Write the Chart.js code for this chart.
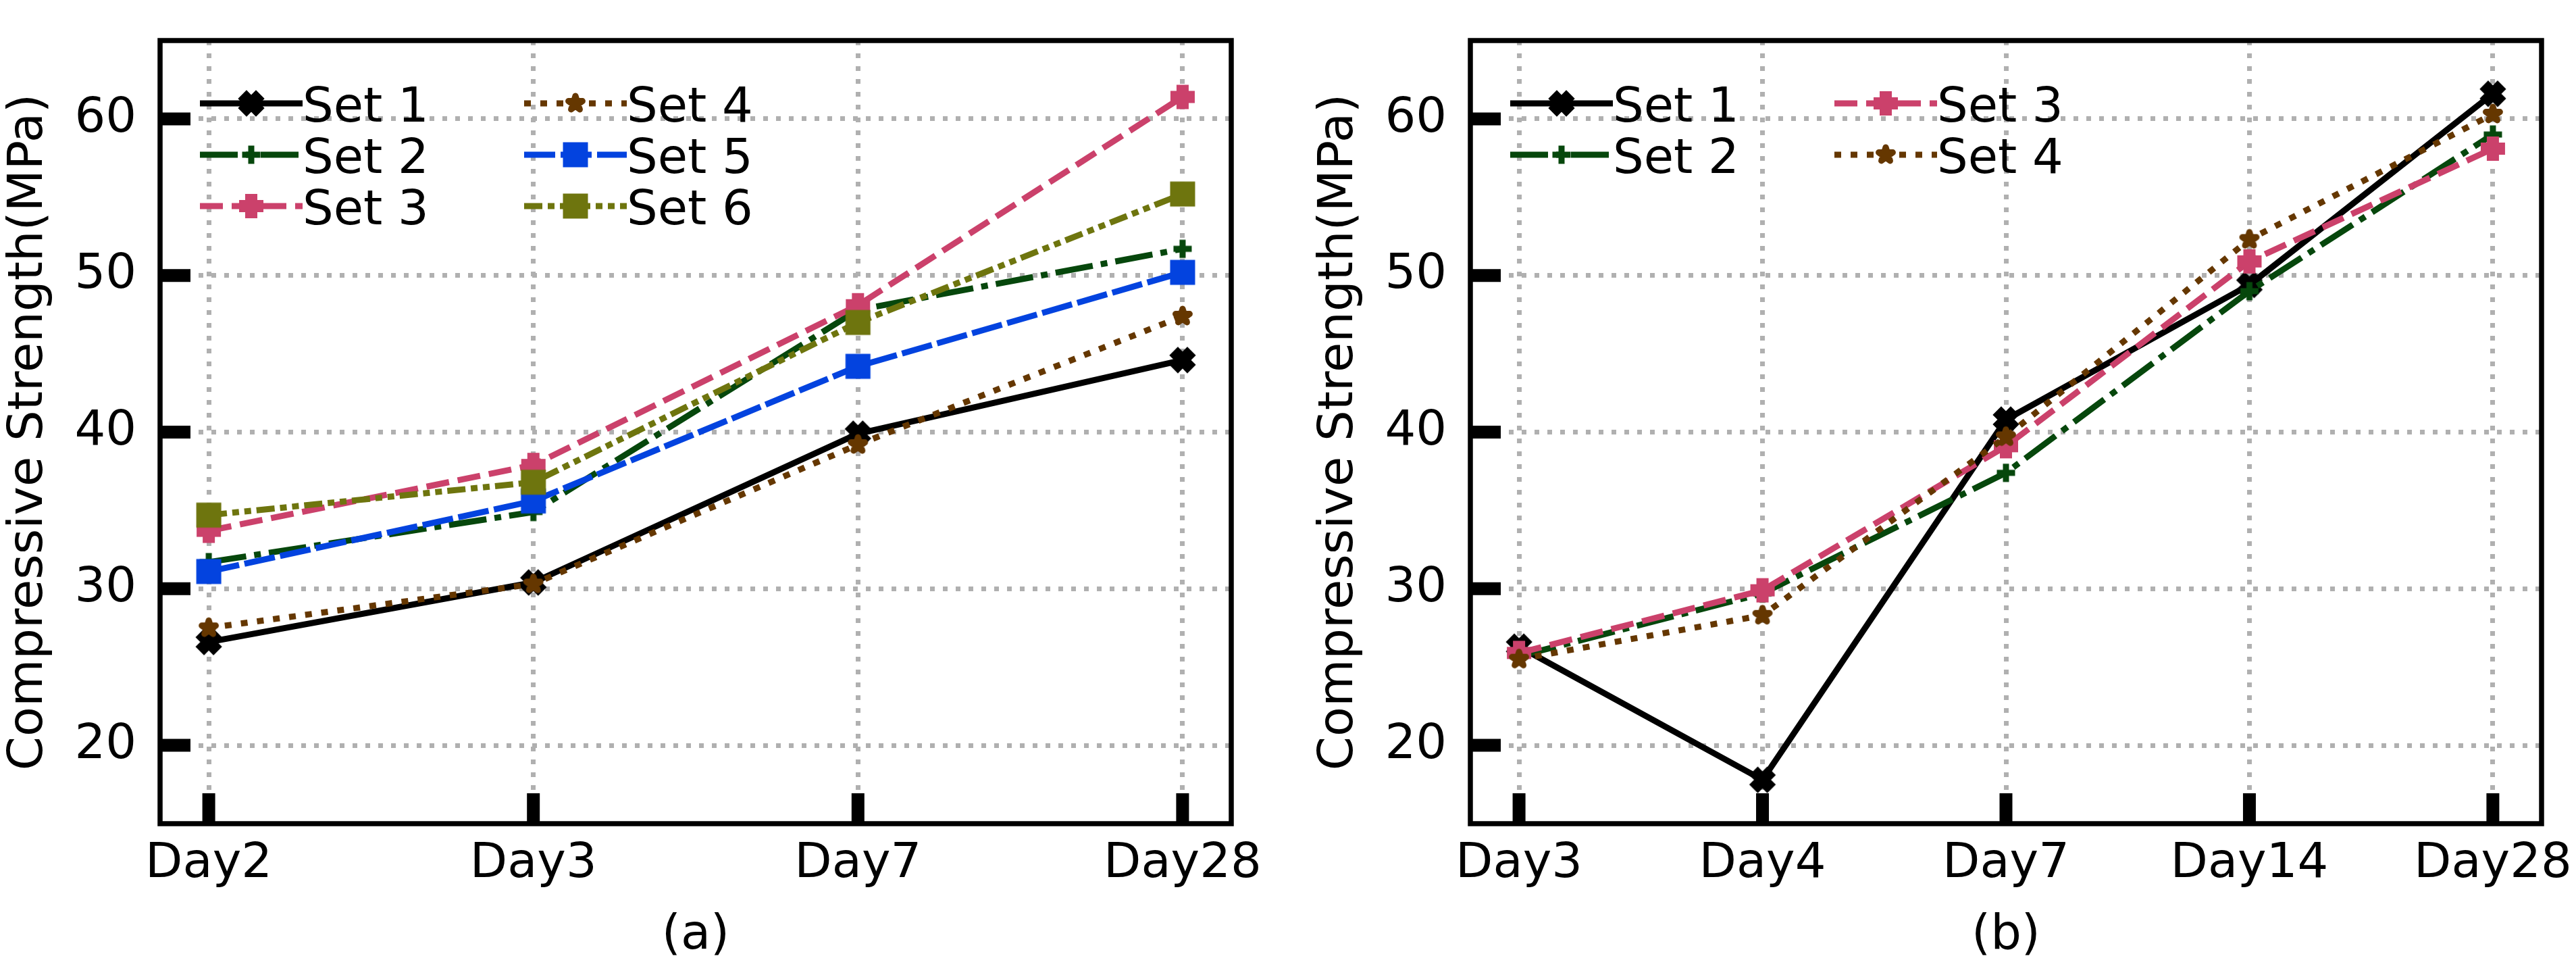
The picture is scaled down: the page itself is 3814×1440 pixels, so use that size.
<!DOCTYPE html>
<html>
<head>
<meta charset="utf-8">
<title>Compressive strength</title>
<script src="https://cdn.jsdelivr.net/npm/chart.js@4.4.1/dist/chart.umd.min.js"></script>
<style>
  html, body { margin: 0; padding: 0; background: #fff; overflow: hidden; }
  #wrap { position: relative; width: 3814px; height: 1440px; }
  canvas { position: absolute; top: 0; }
</style>
</head>
<body>
<div id="wrap">
  <canvas id="chartA" width="1907" height="1440" style="left:0"></canvas>
  <canvas id="chartB" width="1907" height="1440" style="left:1907px"></canvas>
</div>
<script>
// values
const labelsA = ["Day2", "Day3", "Day7", "Day28"];
const labelsB = ["Day3", "Day4", "Day7", "Day14", "Day28"];
const seriesNames = ["Set 1", "Set 2", "Set 3", "Set 4", "Set 5", "Set 6"];
const yTicks = [20, 30, 40, 50, 60];

// panel (a)
const set1A = [26.6, 30.4, 39.9, 44.6];
const set2A = [31.7, 34.9, 47.8, 51.7];
const set3A = [33.7, 37.9, 48.1, 61.4];
const set4A = [27.5, 30.3, 39.2, 47.4];
const set5A = [31.1, 35.6, 44.2, 50.2];
const set6A = [34.7, 36.8, 47.0, 55.2];

// panel (b)
const set1B = [26.3, 17.8, 40.8, 49.4, 61.6];
const set2B = [25.7, 29.7, 37.4, 49.0, 59.0];
const set3B = [25.9, 29.9, 39.1, 50.9, 58.1];
const set4B = [25.5, 28.3, 39.7, 52.3, 60.3];

// line styles per series
const seriesColors = ["#000000", "#06470c", "#cb416b", "#653700", "#0343df", "#6e750e"];
const seriesDash = [[], [56, 12, 10, 12], [34, 13], [10, 14], [46, 8], [27, 8, 10, 8, 10, 8]];
const seriesMarker = ["X", "plus", "P", "star", "square", "square"];

const FONT = "DejaVu Sans";
Chart.defaults.font.family = FONT;
Chart.defaults.color = "#000";

// marker images, matplotlib style
const makeMarker = (kind, color) => {
  const c = document.createElement("canvas");
  c.width = 56;
  c.height = 56;
  const g = c.getContext("2d");
  g.translate(28, 28);
  g.fillStyle = color;
  g.strokeStyle = color;
  g.lineJoin = "miter";
  if (kind === "X") {
    const u = 7;
    const pts = [[-1, -2], [0, -1], [1, -2], [2, -1], [1, 0], [2, 1], [1, 2], [0, 1], [-1, 2], [-2, 1], [-1, 0], [-2, -1]];
    g.beginPath();
    pts.forEach((p, i) => (i ? g.lineTo(p[0] * u, p[1] * u) : g.moveTo(p[0] * u, p[1] * u)));
    g.closePath();
    g.fill();
    g.lineWidth = 8;
    g.stroke();
  } else if (kind === "P") {
    const u = 27 / 6;
    const pts = [[-1, -3], [1, -3], [1, -1], [3, -1], [3, 1], [1, 1], [1, 3], [-1, 3], [-1, 1], [-3, 1], [-3, -1], [-1, -1]];
    g.beginPath();
    pts.forEach((p, i) => (i ? g.lineTo(p[0] * u, p[1] * u) : g.moveTo(p[0] * u, p[1] * u)));
    g.closePath();
    g.fill();
    g.lineWidth = 9;
    g.stroke();
  } else if (kind === "plus") {
    g.lineWidth = 9;
    g.beginPath();
    g.moveTo(-13.5, 0);
    g.lineTo(13.5, 0);
    g.moveTo(0, -13.5);
    g.lineTo(0, 13.5);
    g.stroke();
  } else if (kind === "star") {
    const R = 11;
    const r = R * 0.382;
    g.beginPath();
    for (let k = 0; k < 10; k++) {
      const rad = k % 2 ? r : R;
      const ang = -Math.PI / 2 + (k * Math.PI) / 5;
      const px = rad * Math.cos(ang);
      const py = rad * Math.sin(ang);
      k ? g.lineTo(px, py) : g.moveTo(px, py);
    }
    g.closePath();
    g.fill();
    g.lineJoin = "round";
    g.lineWidth = 9;
    g.stroke();
  } else {
    g.fillRect(-18.5, -18.5, 37, 37);
  }
  return c;
};

const markers = seriesMarker.map((m, i) => makeMarker(m, seriesColors[i]));

// inward ticks, axes frame and the in-axes legend
const frameAndLegend = {
  id: "frameAndLegend",
  afterDatasetsDraw(chart) {
    const { ctx, chartArea: a } = chart;
    const xs = chart.scales.x;
    const ys = chart.scales.y;
    ctx.save();
    ctx.setLineDash([]);
    ctx.strokeStyle = "#000";
    ctx.lineWidth = 19;
    ctx.beginPath();
    xs.ticks.forEach((t) => {
      const px = xs.getPixelForValue(t.value);
      ctx.moveTo(px, a.bottom);
      ctx.lineTo(px, a.bottom - 45);
    });
    ys.ticks.forEach((t) => {
      const py = ys.getPixelForValue(t.value);
      ctx.moveTo(a.left, py);
      ctx.lineTo(a.left + 45, py);
    });
    ctx.stroke();

    ctx.lineWidth = 7.5;
    ctx.strokeRect(a.left, a.top, a.right - a.left, a.bottom - a.top);

    // legend, two columns filled top to bottom
    const sets = chart.data.datasets;
    const perCol = Math.ceil(sets.length / 2);
    ctx.font = "72px " + FONT;
    ctx.textBaseline = "alphabetic";
    ctx.textAlign = "left";
    sets.forEach((ds, i) => {
      const col = Math.floor(i / perCol);
      const row = i % perCol;
      const x0 = a.left + 59 + col * 480;
      const yy = a.top + 93 + row * 76;
      ctx.strokeStyle = ds.borderColor;
      ctx.lineWidth = ds.borderWidth;
      ctx.setLineDash(ds.borderDash);
      ctx.lineDashOffset = 0;
      ctx.beginPath();
      ctx.moveTo(x0, yy);
      ctx.lineTo(x0 + 152, yy);
      ctx.stroke();
      const m = ds.pointStyle;
      ctx.drawImage(m, x0 + 76 - m.width / 2, yy - m.height / 2);
      ctx.fillStyle = "#000";
      ctx.fillText(ds.label, x0 + 152, yy + 27);
    });
    ctx.restore();
  },
};

const buildDatasets = (valuesList) =>
  valuesList.map((vals, i) => ({
    label: seriesNames[i],
    data: vals.map((v, k) => ({ x: k, y: v })),
    borderColor: seriesColors[i],
    backgroundColor: seriesColors[i],
    borderWidth: 9,
    borderDash: seriesDash[i],
    borderJoinStyle: "round",
    pointStyle: markers[i],
    pointRadius: 12,
    pointHoverRadius: 12,
    tension: 0,
    fill: false,
    order: valuesList.length - i,
  }));

const makeChart = (id, labels, valuesList, cfg) => {
  const margin = (labels.length - 1) * 0.05;
  return new Chart(document.getElementById(id), {
    type: "line",
    data: { datasets: buildDatasets(valuesList) },
    options: {
      responsive: false,
      animation: false,
      devicePixelRatio: 1,
      events: [],
      layout: { padding: { left: 0, top: 60, right: cfg.padRight, bottom: 0 } },
      plugins: { legend: { display: false }, tooltip: { enabled: false } },
      scales: {
        x: {
          type: "linear",
          min: -margin,
          max: labels.length - 1 + margin,
          afterBuildTicks: (s) => {
            s.ticks = labels.map((_, k) => ({ value: k }));
          },
          afterFit: (s) => {
            s.height = 221;
            s.paddingLeft = 0;
            s.paddingRight = 0;
          },
          ticks: {
            callback: (v) => labels[v],
            font: { size: 72 },
            color: "#000",
            padding: 17,
            autoSkip: false,
            maxRotation: 0,
          },
          grid: { color: "#b0b0b0", lineWidth: 7, drawTicks: false },
          border: { display: false, dash: [7, 12] },
          title: {
            display: true,
            text: cfg.caption,
            font: { size: 72 },
            color: "#000",
            padding: { top: 0, bottom: 12 },
          },
        },
        y: {
          min: 15,
          max: 65,
          afterBuildTicks: (s) => {
            s.ticks = yTicks.map((v) => ({ value: v }));
          },
          afterFit: (s) => {
            s.width = cfg.yWidth;
            s.paddingTop = 0;
            s.paddingBottom = 0;
          },
          ticks: { font: { size: 72 }, color: "#000", padding: 35 },
          grid: { color: "#b0b0b0", lineWidth: 7, drawTicks: false },
          border: { display: false, dash: [7, 12] },
          title: {
            display: true,
            text: "Compressive Strength(MPa)",
            font: { size: 72 },
            color: "#000",
            padding: { top: cfg.titlePad, bottom: 0 },
          },
        },
      },
    },
    plugins: [frameAndLegend],
  });
};

makeChart("chartA", labelsA, [set1A, set2A, set3A, set4A, set5A, set6A], {
  caption: "(a)",
  yWidth: 237,
  padRight: 84,
  titlePad: 0,
});

makeChart("chartB", labelsB, [set1B, set2B, set3B, set4B], {
  caption: "(b)",
  yWidth: 270,
  padRight: 51,
  titlePad: 33,
});
</script>
</body>
</html>
